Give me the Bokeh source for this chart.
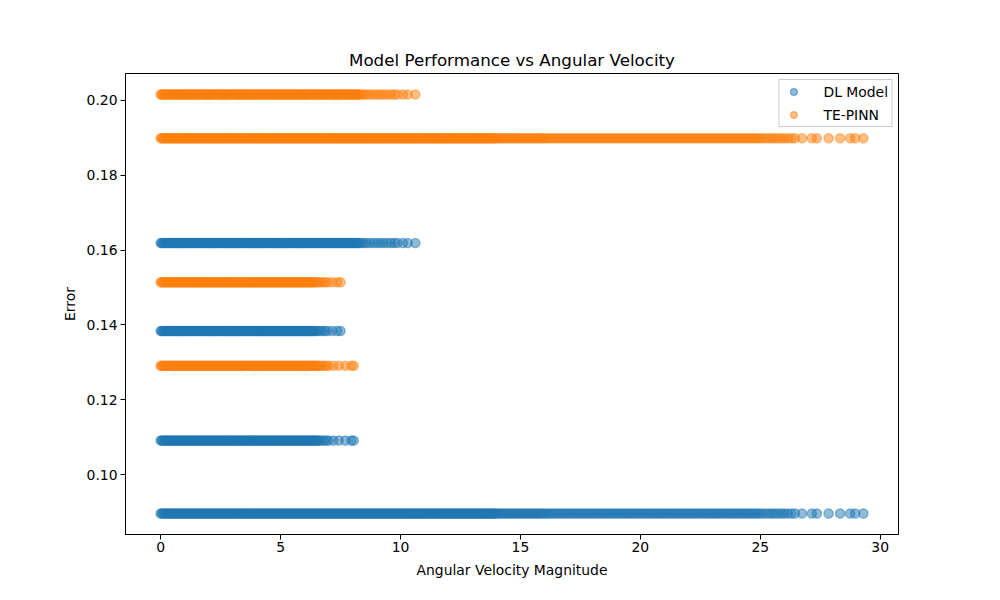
from bokeh.plotting import figure
from bokeh.models import FixedTicker, PrintfTickFormatter
from bokeh.embed import file_html
from bokeh.resources import INLINE

# Angular velocity magnitudes of the four sample groups (same inputs for both models)
ang_group_a = [
    0, .05, .1, .15, .2, .25, .3, .35, .4, .45, .5, .55, .6, .65, .7, .75, .8, .85, .9, .95,
    1, 1.05, 1.1, 1.15, 1.2, 1.25, 1.3, 1.35, 1.4, 1.45, 1.5, 1.55, 1.6, 1.65, 1.7, 1.75, 1.8, 1.85, 1.9, 1.95,
    2, 2.05, 2.1, 2.15, 2.2, 2.25, 2.3, 2.35, 2.4, 2.45, 2.5, 2.55, 2.6, 2.65, 2.7, 2.75, 2.8, 2.85, 2.9, 2.95,
    3, 3.05, 3.1, 3.15, 3.2, 3.25, 3.3, 3.35, 3.4, 3.45, 3.5, 3.55, 3.6, 3.65, 3.7, 3.75, 3.8, 3.85, 3.9, 3.95,
    4, 4.05, 4.1, 4.15, 4.2, 4.25, 4.3, 4.35, 4.4, 4.45, 4.5, 4.55, 4.6, 4.65, 4.7, 4.75, 4.8, 4.85, 4.9, 4.95,
    5, 5.05, 5.1, 5.15, 5.2, 5.25, 5.3, 5.35, 5.4, 5.45, 5.5, 5.55, 5.6, 5.65, 5.7, 5.75, 5.8, 5.85, 5.9, 5.95,
    6, 6.05, 6.1, 6.15, 6.2, 6.25, 6.3, 6.35, 6.4, 6.45, 6.5, 6.55, 6.6, 6.65, 6.7, 6.75, 6.8, 6.85, 6.9, 6.95,
    7, 7.05, 7.1, 7.15, 7.2, 7.25, 7.3, 7.35, 7.4, 7.45, 7.5, 7.55, 7.6, 7.65, 7.7, 7.75, 7.8, 7.85, 7.9, 7.95,
    8, 8.05, 8.1, 8.15, 8.2, 8.25, 8.3, 8.35, 8.4, 8.45, 8.5, 8.55, 8.6, 8.65, 8.7, 8.75, 8.8, 8.85, 8.9, 8.95,
    9, 9.05, 9.1, 9.15, 9.2, 9.25, 9.3, 9.35, 9.4, 9.45, 9.5, 9.55, 9.6, 9.65, 9.7, 9.75, 9.8, 9.85, 9.9, 9.95,
    10, 10.05, 10.1, 10.15, 10.2, 10.25, 10.3, 10.35, 10.4, 10.45, 10.5, 10.55, 10.6, 10.65, 10.7, 10.75, 10.8, 10.85, 10.9, 10.95,
    11, 11.05, 11.1, 11.15, 11.2, 11.25, 11.3, 11.35, 11.4, 11.45, 11.5, 11.55, 11.6, 11.65, 11.7, 11.75, 11.8, 11.85, 11.9, 11.95,
    12, 12.05, 12.1, 12.15, 12.2, 12.25, 12.3, 12.35, 12.4, 12.45, 12.5, 12.55, 12.6, 12.65, 12.7, 12.75, 12.8, 12.85, 12.9, 12.95,
    13, 13.05, 13.1, 13.15, 13.2, 13.25, 13.3, 13.35, 13.4, 13.45, 13.5, 13.55, 13.6, 13.65, 13.7, 13.75, 13.8, 13.85, 13.9, 13.95,
    14, 14.08, 14.16, 14.24, 14.32, 14.4, 14.48, 14.56, 14.64, 14.72, 14.8, 14.88, 14.96,
    15.04, 15.12, 15.2, 15.28, 15.36, 15.44, 15.52, 15.6, 15.68, 15.76, 15.84, 15.92,
    16, 16.1, 16.2, 16.3, 16.4, 16.5, 16.6, 16.7, 16.8, 16.9,
    17, 17.1, 17.2, 17.3, 17.4, 17.5, 17.6, 17.7, 17.8, 17.9,
    18, 18.1, 18.2, 18.3, 18.4, 18.5, 18.6, 18.7, 18.8, 18.9,
    19, 19.1, 19.2, 19.3, 19.4, 19.5, 19.6, 19.7, 19.8, 19.9,
    20, 20.1, 20.2, 20.3, 20.4, 20.5, 20.6, 20.7, 20.8, 20.9,
    21, 21.1, 21.2, 21.3, 21.4, 21.5, 21.6, 21.7, 21.8, 21.9,
    22, 22.1, 22.2, 22.3, 22.4, 22.5, 22.6, 22.7, 22.8, 22.9,
    23, 23.1, 23.2, 23.3, 23.4, 23.5, 23.6, 23.7, 23.8, 23.9,
    24, 24.1, 24.2, 24.3, 24.4, 24.5, 24.6, 24.7, 24.8, 24.9,
    25, 25.12, 25.25, 25.38, 25.5, 25.62, 25.75, 25.88, 26, 26.15, 26.3, 26.45,
    26.74, 27.15, 27.36, 27.85, 28.33, 28.75, 28.96, 29.3,
]
ang_group_b = [
    0, .05, .1, .15, .2, .25, .3, .35, .4, .45, .5, .55, .6, .65, .7, .75, .8, .85, .9, .95,
    1, 1.05, 1.1, 1.15, 1.2, 1.25, 1.3, 1.35, 1.4, 1.45, 1.5, 1.55, 1.6, 1.65, 1.7, 1.75, 1.8, 1.85, 1.9, 1.95,
    2, 2.05, 2.1, 2.15, 2.2, 2.25, 2.3, 2.35, 2.4, 2.45, 2.5, 2.55, 2.6, 2.65, 2.7, 2.75, 2.8, 2.85, 2.9, 2.95,
    3, 3.05, 3.1, 3.15, 3.2, 3.25, 3.3, 3.35, 3.4, 3.45, 3.5, 3.55, 3.6, 3.65, 3.7, 3.75, 3.8, 3.85, 3.9, 3.95,
    4, 4.05, 4.1, 4.15, 4.2, 4.25, 4.3, 4.35, 4.4, 4.45, 4.5, 4.55, 4.6, 4.65, 4.7, 4.75, 4.8, 4.85, 4.9, 4.95,
    5, 5.05, 5.1, 5.15, 5.2, 5.25, 5.3, 5.35, 5.4, 5.45, 5.5, 5.55, 5.6, 5.65, 5.7, 5.75, 5.8, 5.85, 5.9, 5.95,
    6, 6.05, 6.1, 6.15, 6.2, 6.25, 6.3, 6.35, 6.4, 6.45, 6.5, 6.55, 6.6, 6.65, 6.7, 6.75, 6.8, 6.85, 6.9, 6.95,
    7, 7.05, 7.1, 7.15, 7.2, 7.25, 7.3, 7.35, 7.4, 7.45, 7.5, 7.55, 7.6, 7.65, 7.7, 7.75, 7.8, 7.85, 7.9, 7.95,
    8, 8.05, 8.1, 8.15, 8.2, 8.25, 8.3, 8.4, 8.5, 8.62, 8.75, 8.9, 9.04, 9.17, 9.3, 9.45, 9.6, 9.74, 9.87,
    10.1, 10.3, 10.62,
]
ang_group_c = [
    0, .05, .1, .15, .2, .25, .3, .35, .4, .45, .5, .55, .6, .65, .7, .75, .8, .85, .9, .95,
    1, 1.05, 1.1, 1.15, 1.2, 1.25, 1.3, 1.35, 1.4, 1.45, 1.5, 1.55, 1.6, 1.65, 1.7, 1.75, 1.8, 1.85, 1.9, 1.95,
    2, 2.05, 2.1, 2.15, 2.2, 2.25, 2.3, 2.35, 2.4, 2.45, 2.5, 2.55, 2.6, 2.65, 2.7, 2.75, 2.8, 2.85, 2.9, 2.95,
    3, 3.05, 3.1, 3.15, 3.2, 3.25, 3.3, 3.35, 3.4, 3.45, 3.5, 3.55, 3.6, 3.65, 3.7, 3.75, 3.8, 3.85, 3.9, 3.95,
    4, 4.05, 4.1, 4.15, 4.2, 4.25, 4.3, 4.35, 4.4, 4.45, 4.5, 4.55, 4.6, 4.65, 4.7, 4.75, 4.8, 4.85, 4.9, 4.95,
    5, 5.05, 5.1, 5.15, 5.2, 5.25, 5.3, 5.35, 5.4, 5.45, 5.5, 5.55, 5.6, 5.65, 5.7, 5.75, 5.8, 5.85, 5.9, 5.95,
    6, 6.05, 6.1, 6.15, 6.2, 6.25, 6.3, 6.35, 6.4, 6.47, 6.53, 6.63, 6.74, 6.85, 6.95, 7.15, 7.36, 7.5,
]
ang_group_d = [
    0, .05, .1, .15, .2, .25, .3, .35, .4, .45, .5, .55, .6, .65, .7, .75, .8, .85, .9, .95,
    1, 1.05, 1.1, 1.15, 1.2, 1.25, 1.3, 1.35, 1.4, 1.45, 1.5, 1.55, 1.6, 1.65, 1.7, 1.75, 1.8, 1.85, 1.9, 1.95,
    2, 2.05, 2.1, 2.15, 2.2, 2.25, 2.3, 2.35, 2.4, 2.45, 2.5, 2.55, 2.6, 2.65, 2.7, 2.75, 2.8, 2.85, 2.9, 2.95,
    3, 3.05, 3.1, 3.15, 3.2, 3.25, 3.3, 3.35, 3.4, 3.45, 3.5, 3.55, 3.6, 3.65, 3.7, 3.75, 3.8, 3.85, 3.9, 3.95,
    4, 4.05, 4.1, 4.15, 4.2, 4.25, 4.3, 4.35, 4.4, 4.45, 4.5, 4.55, 4.6, 4.65, 4.7, 4.75, 4.8, 4.85, 4.9, 4.95,
    5, 5.05, 5.1, 5.15, 5.2, 5.25, 5.3, 5.35, 5.4, 5.45, 5.5, 5.55, 5.6, 5.65, 5.7, 5.75, 5.8, 5.85, 5.9, 5.95,
    6, 6.05, 6.1, 6.15, 6.2, 6.25, 6.3, 6.35, 6.4, 6.45, 6.5, 6.55, 6.6, 6.7, 6.8, 6.9, 7.0, 7.2,
    7.43, 7.7, 7.95, 8.05,
]

# Error level of each group (groups a, b, c, d)
dl_errors = [0.0896, 0.1619, 0.1384, 0.1091]
te_errors = [0.1899, 0.2016, 0.1514, 0.1291]

x_ticks = [0, 5, 10, 15, 20, 25, 30]
y_ticks = [0.10, 0.12, 0.14, 0.16, 0.18, 0.20]

groups = [ang_group_a, ang_group_b, ang_group_c, ang_group_d]


def build(errors):
    xs, ys = [], []
    for g, e in zip(groups, errors):
        xs.extend(g)
        ys.extend([e] * len(g))
    return xs, ys


dl_x, dl_y = build(dl_errors)
te_x, te_y = build(te_errors)

FONT = "DejaVu Sans"

p = figure(
    width=984, height=584,
    x_range=(-1.465, 30.765), y_range=(0.0840, 0.2072),
    output_backend="svg", toolbar_location=None,
    min_border_left=125, min_border_right=86,
    min_border_top=73, min_border_bottom=50,
    title="Model Performance vs Angular Velocity",
)
p.background_fill_color = "white"
p.border_fill_color = "white"
p.outline_line_color = "black"
p.outline_line_alpha = 1
p.outline_line_width = 1
p.xgrid.visible = False
p.ygrid.visible = False

p.title.align = "center"
p.title.text_font = FONT
p.title.text_font_size = "16.7px"
p.title.text_font_style = "normal"
p.title.text_color = "black"
p.title.standoff = 7

blue = "#1f77b4"
orange = "#ff7f0e"
p.scatter(dl_x, dl_y, marker="circle", size=9.2, fill_color=blue, fill_alpha=0.5,
          line_color=blue, line_alpha=0.5, line_width=1.4, legend_label="DL Model")
p.scatter(te_x, te_y, marker="circle", size=9.2, fill_color=orange, fill_alpha=0.5,
          line_color=orange, line_alpha=0.5, line_width=1.4, legend_label="TE-PINN")

p.xaxis.ticker = FixedTicker(ticks=x_ticks)
p.yaxis.ticker = FixedTicker(ticks=y_ticks)
p.yaxis.formatter = PrintfTickFormatter(format="%.2f")
p.xaxis.axis_label = "Angular Velocity Magnitude"
p.yaxis.axis_label = "Error"
for ax in (p.xaxis, p.yaxis):
    ax.axis_line_color = "black"
    ax.major_tick_line_color = "black"
    ax.major_tick_out = 5
    ax.major_tick_in = 0
    ax.minor_tick_line_color = None
    ax.major_label_text_font = FONT
    ax.major_label_text_font_size = "13.9px"
    ax.major_label_text_color = "black"
    ax.axis_label_text_font = FONT
    ax.axis_label_text_font_size = "13.9px"
    ax.axis_label_text_font_style = "normal"
    ax.axis_label_text_color = "black"
p.xaxis.major_label_standoff = 2
p.xaxis.axis_label_standoff = 7
p.yaxis.major_label_standoff = 3
p.yaxis.axis_label_standoff = 6

lg = p.legend[0]
lg.location = "top_right"
lg.margin = 6
lg.padding = 3
lg.spacing = 6
lg.glyph_height = 17
lg.glyph_width = 22
lg.label_standoff = 19
lg.label_text_font = FONT
lg.label_text_font_size = "13.9px"
lg.label_text_color = "black"
lg.label_height = 17
lg.border_line_color = "#cccccc"
lg.border_line_alpha = 1
lg.background_fill_alpha = 0.8

open("out.html", "w").write(file_html(p, INLINE))
